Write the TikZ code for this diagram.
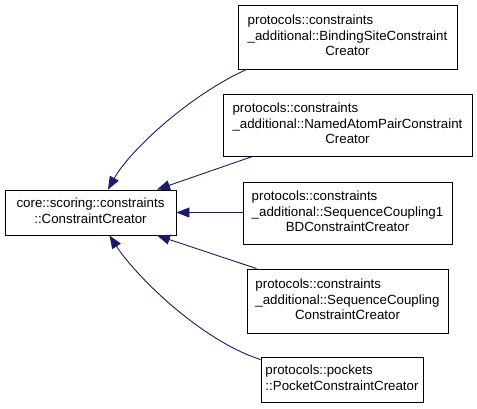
\documentclass[tikz,border=0pt]{standalone}
\usepackage{fontspec}
\setmainfont{Liberation Sans}
\usetikzlibrary{arrows.meta}
\definecolor{edgeblue}{HTML}{191970}
\begin{document}
\begin{tikzpicture}[x=1pt,y=-1pt,
  cls/.style={draw=black, line width=0.9pt, fill=white, inner sep=0pt, align=center,
    font=\fontsize{13.3}{15.5}\selectfont},
  inh/.style={draw=edgeblue, line width=0.9pt, {Triangle[length=13pt,width=10pt]}-}]
\useasboundingbox (0,0) rectangle (477,408);
\node[cls, minimum width=171pt, minimum height=45pt] (core) at (90.5,212.5)
  {\begin{tabular}{@{}l@{}}core::scoring::constraints\\ \multicolumn{1}{@{}c@{}}{::ConstraintCreator}\end{tabular}};
\node[cls, minimum width=219pt, minimum height=64pt] (n1) at (347.5,37)
  {\begin{tabular}{@{}l@{}}protocols::constraints\\ \_additional::BindingSiteConstraint\\ \multicolumn{1}{@{}c@{}}{Creator}\end{tabular}};
\node[cls, minimum width=249pt, minimum height=62pt] (n2) at (347.5,125)
  {\begin{tabular}{@{}l@{}}protocols::constraints\\ \_additional::NamedAtomPairConstraint\\ \multicolumn{1}{@{}c@{}}{Creator}\end{tabular}};
\node[cls, minimum width=209pt, minimum height=62pt] (n3) at (347.5,213)
  {\begin{tabular}{@{}l@{}}protocols::constraints\\ \_additional::SequenceCoupling1\\ \multicolumn{1}{@{}c@{}}{BDConstraintCreator}\end{tabular}};
\node[cls, minimum width=201pt, minimum height=64pt] (n4) at (347.5,301)
  {\begin{tabular}{@{}l@{}}protocols::constraints\\ \_additional::SequenceCoupling\\ \multicolumn{1}{@{}c@{}}{ConstraintCreator}\end{tabular}};
\node[cls, minimum width=162pt, minimum height=45pt] (n5) at (342,379.5)
  {\begin{tabular}{@{}l@{}}protocols::pockets\\ ::PocketConstraintCreator\end{tabular}};
\draw[inh] ([xshift=17.5pt]core.north) .. controls (130,150) and (190,95) .. ([xshift=9pt]n1.south west);
\draw[inh] ([xshift=66.5pt]core.north) -- ([xshift=30pt]n2.south west);
\draw[inh] (core.east) -- (core.east -| n3.west);
\draw[inh] ([xshift=66.5pt]core.south) -- ([xshift=10pt]n4.north west);
\draw[inh] ([xshift=19pt]core.south) .. controls (135,275) and (200,340) .. ([yshift=-3pt]n5.north west);
\end{tikzpicture}
\end{document}
